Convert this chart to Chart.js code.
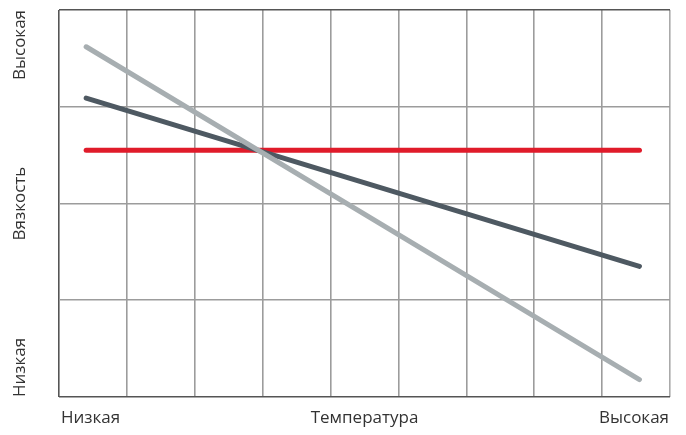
<!DOCTYPE html>
<html>
<head>
    <title>Вязкость и температура</title>
    <script src="https://cdn.jsdelivr.net/npm/chart.js"></script>
    <style>
        body { margin: 0; background: #ffffff; }
        #wrap { width: 686px; height: 435px; }
    </style>
</head>
<body>
    <div id="wrap"><canvas id="viscChart"></canvas></div>
    <script>
        // данные (единицы = клетки сетки)
        const xPoints = [0.4, 8.55];
        const lightSeries = [3.62, 0.18];
        const darkSeries = [3.09, 1.35];
        const redSeries = [2.55, 2.55];
        const gridCols = 9;
        const gridRows = 4;
        const xLabels = ['Низкая', 'Температура', 'Высокая'];
        const yLabels = ['Низкая', 'Вязкость', 'Высокая'];

        const FONT = '"Open Sans", "Noto Sans", sans-serif';
        const FONT_SIZE = 17;
        const textColor = '#333333';

        function toPoints(ys) {
            return xPoints.map((x, i) => ({ x: x, y: ys[i] }));
        }

        function lineSet(data, color) {
            return {
                data: toPoints(data),
                borderColor: color,
                borderWidth: 5,
                borderCapStyle: 'round',
                pointRadius: 0,
                tension: 0
            };
        }

        // подписи краёв осей (низкая / высокая)
        const edgeLabels = {
            id: 'edgeLabels',
            afterDraw(chart) {
                const { ctx, chartArea } = chart;
                ctx.save();
                ctx.font = FONT_SIZE + 'px ' + FONT;
                ctx.fillStyle = textColor;
                ctx.textBaseline = 'middle';
                const yTxt = 418;
                ctx.textAlign = 'left';
                ctx.fillText(xLabels[0], chartArea.left + 2, yTxt);
                ctx.textAlign = 'right';
                ctx.fillText(xLabels[2], chartArea.right - 1, yTxt);

                ctx.translate(20, 0);
                ctx.rotate(-Math.PI / 2);
                ctx.textAlign = 'right';
                ctx.fillText(yLabels[2], -chartArea.top, 0);
                ctx.textAlign = 'left';
                ctx.fillText(yLabels[0], -chartArea.bottom, 0);
                ctx.restore();
            }
        };

        function edgeColor(ctx, last) {
            if (ctx.index === 0) return '#555555';
            if (ctx.index === last) return last === gridCols ? '#aaaaaa' : '#555555';
            return '#9c9c9c';
        }

        new Chart(document.getElementById('viscChart'), {
            type: 'line',
            data: {
                datasets: [
                    lineSet(lightSeries, '#a7aeb1'),
                    lineSet(darkSeries, '#4e5962'),
                    lineSet(redSeries, '#e01b2a')
                ]
            },
            options: {
                responsive: true,
                maintainAspectRatio: false,
                animation: false,
                layout: { padding: { top: 10, right: 16, left: 0, bottom: 0 } },
                plugins: { legend: { display: false }, tooltip: { enabled: false } },
                scales: {
                    x: {
                        type: 'linear',
                        min: 0,
                        max: gridCols,
                        ticks: { stepSize: 1, display: false },
                        border: { display: false },
                        grid: {
                            color: c => edgeColor(c, gridCols),
                            lineWidth: 1.6,
                            drawTicks: false
                        },
                        title: {
                            display: true,
                            text: xLabels[1],
                            color: textColor,
                            font: { family: FONT, size: FONT_SIZE },
                            padding: { top: 7, bottom: 7 }
                        },
                        afterFit: s => { s.height = 38; }
                    },
                    y: {
                        type: 'linear',
                        min: 0,
                        max: gridRows,
                        ticks: { stepSize: 1, display: false },
                        border: { display: false },
                        grid: {
                            color: c => edgeColor(c, gridRows),
                            lineWidth: 1.6,
                            drawTicks: false
                        },
                        title: {
                            display: true,
                            text: yLabels[1],
                            color: textColor,
                            font: { family: FONT, size: FONT_SIZE },
                            padding: { top: 10, bottom: 10 }
                        },
                        afterFit: s => { s.width = 59; }
                    }
                }
            },
            plugins: [edgeLabels]
        });
    </script>
</body>
</html>
